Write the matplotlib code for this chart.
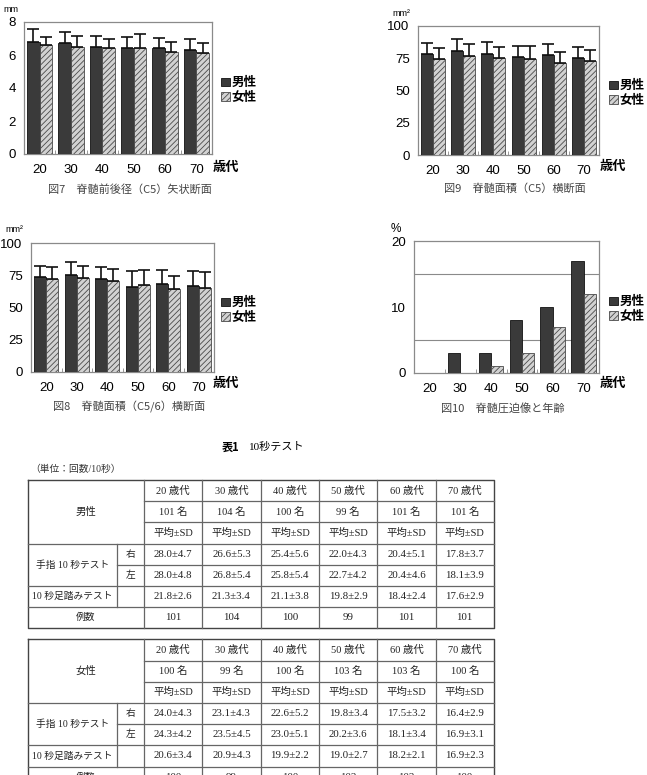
import numpy as np
import matplotlib
matplotlib.use("Agg")
import matplotlib.pyplot as plt
from matplotlib.patches import Patch

plt.rcParams['font.family'] = ['Liberation Sans', 'Noto Sans CJK JP']
plt.rcParams['hatch.linewidth'] = 0.6

W, H = 647, 775

# ---- chart data ----
ages = ['20', '30', '40', '50', '60', '70']

# 図7 脊髄前後径 (mm)
ap_male = [6.8, 6.7, 6.5, 6.4, 6.4, 6.3]
ap_male_sd = [0.75, 0.68, 0.67, 0.67, 0.61, 0.66]
ap_female = [6.6, 6.5, 6.4, 6.4, 6.2, 6.1]
ap_female_sd = [0.5, 0.67, 0.6, 0.9, 0.58, 0.65]

# 図9 脊髄面積 C5 (mm2)
c5_male = [78.6, 80.6, 78.6, 75.7, 77.3, 75.2]
c5_male_sd = [8.5, 9.1, 8.7, 9.1, 8.5, 8.5]
c5_female = [74.4, 77.0, 74.9, 74.2, 71.3, 72.6]
c5_female_sd = [8.8, 8.8, 8.8, 10.3, 8.5, 8.8]

# 図8 脊髄面積 C5/6 (mm2)
c56_male = [74.0, 75.1, 72.0, 66.1, 68.1, 66.6]
c56_male_sd = [8.5, 10.0, 9.5, 12.3, 10.8, 11.8]
c56_female = [72.2, 72.5, 70.4, 67.6, 64.3, 65.3]
c56_female_sd = [9.3, 9.8, 9.8, 11.8, 10.0, 12.1]

# 図10 脊髄圧迫像 (%)
comp_male = [0, 3, 3, 8, 10, 17]
comp_female = [0, 0, 1, 3, 7, 12]

# ---- table data (表1) ----
decades = ['20 歳代', '30 歳代', '40 歳代', '50 歳代', '60 歳代', '70 歳代']
m_n = [101, 104, 100, 99, 101, 101]
m_right = [28.0, 26.6, 25.4, 22.0, 20.4, 17.8]
m_right_sd = [4.7, 5.3, 5.6, 4.3, 5.1, 3.7]
m_left = [28.0, 26.8, 25.8, 22.7, 20.4, 18.1]
m_left_sd = [4.8, 5.4, 5.4, 4.2, 4.6, 3.9]
m_step = [21.8, 21.3, 21.1, 19.8, 18.4, 17.6]
m_step_sd = [2.6, 3.4, 3.8, 2.9, 2.4, 2.9]

f_n = [100, 99, 100, 103, 103, 100]
f_right = [24.0, 23.1, 22.6, 19.8, 17.5, 16.4]
f_right_sd = [4.3, 4.3, 5.2, 3.4, 3.2, 2.9]
f_left = [24.3, 23.5, 23.0, 20.2, 18.1, 16.9]
f_left_sd = [4.2, 4.5, 5.1, 3.6, 3.4, 3.1]
f_step = [20.6, 20.9, 19.9, 19.0, 18.2, 16.9]
f_step_sd = [3.4, 4.3, 2.2, 2.7, 2.1, 2.3]

JP = ['Noto Sans CJK JP', 'DejaVu Sans']
SERIF = ['Liberation Serif', 'Noto Sans CJK JP']
MALE_KW = dict(facecolor='#3a3a3a', edgecolor='#111111', linewidth=0.6)
FEMALE_KW = dict(facecolor='#d2d2d2', edgecolor='#4a4a4a', hatch='//////', linewidth=0.6)

fig = plt.figure(figsize=(W / 100, H / 100), dpi=100)


def px_rect(left, top, right, bottom):
    return [left / W, 1 - bottom / H, (right - left) / W, (bottom - top) / H]


def ftext(x, y, s, **kw):
    fig.text(x / W, 1 - y / H, s, **kw)


def bar_chart(box, male, female, male_sd, female_sd, ymax, yticks, grid,
              unit, unit_xy, legend_xy, age_xy, caption, caption_xy, unit_size=6.5):
    ax = fig.add_axes(px_rect(*box))
    x = np.arange(len(ages))
    w = 0.4
    err = dict(ecolor='#111111', elinewidth=1.2, capsize=4, capthick=1.2, zorder=4)
    m_err = None if male_sd is None else [np.zeros(len(male)), male_sd]
    f_err = None if female_sd is None else [np.zeros(len(female)), female_sd]
    ax.bar(x - w / 2, male, w, yerr=m_err, error_kw=err, zorder=3, **MALE_KW)
    ax.bar(x + w / 2, female, w, yerr=f_err, error_kw=err, zorder=3, **FEMALE_KW)

    ax.set_xlim(-0.5, len(ages) - 0.5)
    ax.set_ylim(0, ymax)
    ax.set_yticks(yticks)
    ax.set_yticks(grid, minor=True)
    ax.grid(axis='y', which='minor', color='#8a8a8a', linewidth=0.8, zorder=1)
    ax.set_xticks(x)
    ax.set_xticklabels(ages)
    ax.set_xticks(np.arange(0.5, len(ages) - 1, 1), minor=True)
    ax.tick_params(axis='both', which='major', length=0, labelsize=9.5)
    ax.tick_params(axis='y', which='major', pad=6)
    ax.tick_params(axis='x', which='major', pad=7)
    ax.tick_params(axis='y', which='minor', length=0)
    ax.tick_params(axis='x', which='minor', direction='in', length=3, color='#888888')
    for sp in ax.spines.values():
        sp.set_color('#8a8a8a')
        sp.set_linewidth(0.9)

    ftext(*unit_xy, unit, fontsize=unit_size, ha='left', va='center')
    handles = [Patch(**MALE_KW), Patch(**FEMALE_KW)]
    fig.legend(handles, ['男性', '女性'], loc='center left',
               bbox_to_anchor=(legend_xy[0] / W, 1 - legend_xy[1] / H),
               frameon=False, prop=dict(family=JP, weight='bold', size=9),
               handlelength=0.7, handleheight=0.7, handletextpad=0.15,
               labelspacing=0.12, borderpad=0, borderaxespad=0)
    ftext(*age_xy, '歳代', family=JP, weight='bold', fontsize=9.5, ha='center', va='center')
    ftext(*caption_xy, caption, family=JP, fontsize=8, color='#444444', ha='center', va='center')
    return ax


bar_chart((24, 22, 212, 154), ap_male, ap_female, ap_male_sd, ap_female_sd,
          8, [0, 2, 4, 6, 8], [2, 4, 6], 'mm', (3, 10), (221, 90), (226, 167),
          '図7　脊髄前後径（C5）矢状断面', (130, 190))
bar_chart((418, 26, 599, 155), c5_male, c5_female, c5_male_sd, c5_female_sd,
          100, [0, 25, 50, 75, 100], [25, 50, 75], 'mm²', (392, 14), (609, 93), (613, 166),
          '図9　脊髄面積（C5）横断面', (515, 189))
bar_chart((31, 243, 214, 372), c56_male, c56_female, c56_male_sd, c56_female_sd,
          100, [0, 25, 50, 75, 100], [25, 50, 75], 'mm²', (5, 230), (221, 310), (226, 383),
          '図8　脊髄面積（C5/6）横断面', (129, 407))
bar_chart((414, 241, 599, 373), comp_male, comp_female, None, None,
          20, [0, 10, 20], [5, 10, 15], '%', (391, 229), (609, 309), (613, 383),
          '図10　脊髄圧迫像と年齢', (503, 408), unit_size=8.5)

# ---- table ----
ov = fig.add_axes([0, 0, 1, 1])
ov.set_xlim(0, W)
ov.set_ylim(H, 0)
ov.axis('off')

col_x = [27.7, 116.7, 144, 202.3, 260.7, 319, 377.3, 435.7, 493.7]
row_h = 21.2
LINE = dict(color='#666666', linewidth=0.9)
TXT = dict(ha='center', va='center', color='#222222', family=SERIF)

ov.text(240, 447, '表1', family=JP, weight='bold', fontsize=8, ha='right', va='center')
ov.text(249, 447, '10秒テスト', fontsize=8, ha='left', va='center', family=SERIF)
ov.text(30, 469, '（単位：回数/10秒）', fontsize=7, ha='left', va='center', family=SERIF,
        color='#333333')


def draw_table(top, sex, n, r, r_sd, l, l_sd, s, s_sd):
    ys = [top + i * row_h for i in range(8)]
    # outer box and full-width rules
    ov.plot([col_x[0], col_x[-1], col_x[-1], col_x[0], col_x[0]],
            [ys[0], ys[0], ys[7], ys[7], ys[0]], color='#444444', linewidth=1.0)
    for i in (3, 5, 6):
        ov.plot([col_x[0], col_x[-1]], [ys[i], ys[i]], **LINE)
    for i in (1, 2):
        ov.plot([col_x[2], col_x[-1]], [ys[i], ys[i]], **LINE)
    ov.plot([col_x[1], col_x[-1]], [ys[4], ys[4]], **LINE)
    for cx in col_x[2:-1]:
        ov.plot([cx, cx], [ys[0], ys[7]], **LINE)
    ov.plot([col_x[1], col_x[1]], [ys[3], ys[6]], **LINE)

    mid = lambda i: (ys[i] + ys[i + 1]) / 2
    ov.text((col_x[0] + col_x[2]) / 2, (ys[0] + ys[3]) / 2, sex, fontsize=7.5, **TXT)
    ov.text((col_x[0] + col_x[1]) / 2, (ys[3] + ys[5]) / 2, '手指 10 秒テスト', fontsize=7, **TXT)
    ov.text((col_x[1] + col_x[2]) / 2, mid(3), '右', fontsize=7, **TXT)
    ov.text((col_x[1] + col_x[2]) / 2, mid(4), '左', fontsize=7, **TXT)
    ov.text((col_x[0] + col_x[1]) / 2, mid(5), '10 秒足踏みテスト', fontsize=7, **TXT)
    ov.text((col_x[0] + col_x[2]) / 2, mid(6), '例数', fontsize=7, **TXT)
    for j in range(len(decades)):
        cx = (col_x[j + 2] + col_x[j + 3]) / 2
        ov.text(cx, mid(0), decades[j], fontsize=7.5, **TXT)
        ov.text(cx, mid(1), f'{n[j]} 名', fontsize=7.5, **TXT)
        ov.text(cx, mid(2), '平均±SD', fontsize=7.5, **TXT)
        ov.text(cx, mid(3), f'{r[j]:.1f}±{r_sd[j]:.1f}', fontsize=7.8, **TXT)
        ov.text(cx, mid(4), f'{l[j]:.1f}±{l_sd[j]:.1f}', fontsize=7.8, **TXT)
        ov.text(cx, mid(5), f'{s[j]:.1f}±{s_sd[j]:.1f}', fontsize=7.8, **TXT)
        ov.text(cx, mid(6), f'{n[j]}', fontsize=7.8, **TXT)


draw_table(480, '男性', m_n, m_right, m_right_sd, m_left, m_left_sd, m_step, m_step_sd)
draw_table(639.3, '女性', f_n, f_right, f_right_sd, f_left, f_left_sd, f_step, f_step_sd)

fig.savefig('out.png', dpi=100)
